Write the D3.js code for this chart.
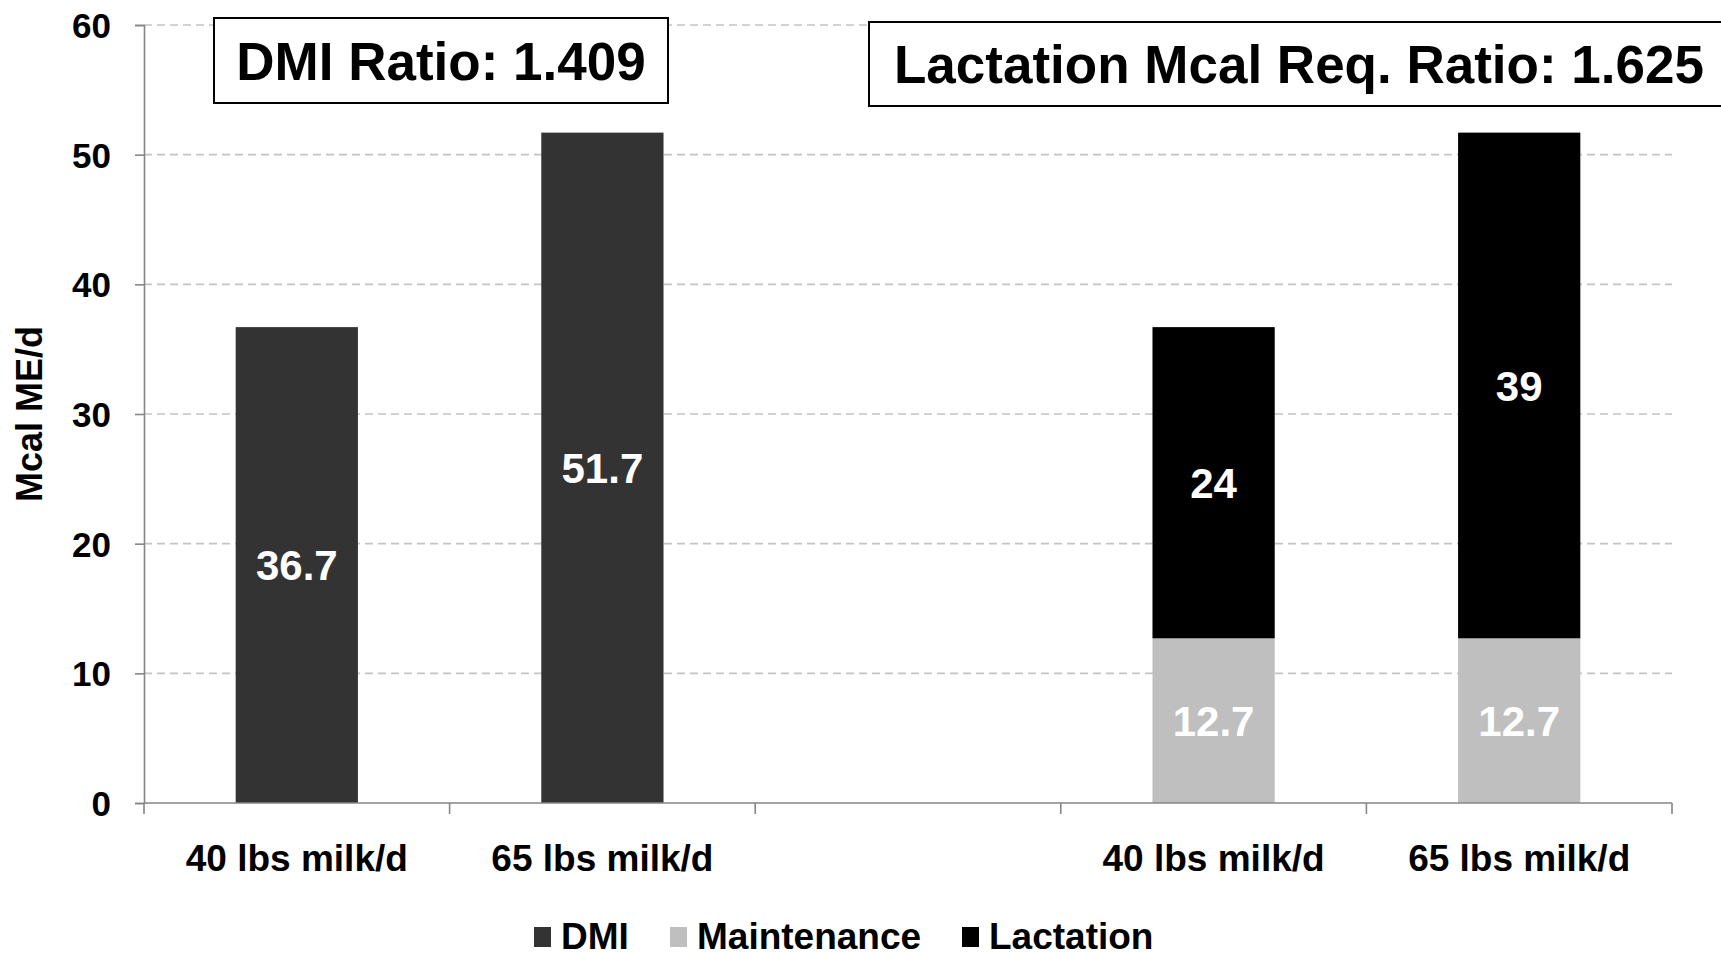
<!DOCTYPE html>
<html>
<head>
<meta charset="utf-8">
<script src="https://cdn.jsdelivr.net/npm/d3@7"></script>
<style>
  body { margin: 0; background: #fff; }
  text { font-family: "Liberation Sans", Arial, sans-serif; font-weight: bold; }
</style>
</head>
<body>
<svg id="chart" width="1721" height="953"></svg>
<script>
// donnees du graphique
var categories = ["40 lbs milk/d", "65 lbs milk/d", "", "40 lbs milk/d", "65 lbs milk/d"];
var dmi = [36.7, 51.7, 0, 0, 0];
var maintenance = [0, 0, 0, 12.7, 12.7];
var lactation = [0, 0, 0, 24, 39];
var seriesNames = ["DMI", "Maintenance", "Lactation"];
var seriesColors = ["#333333", "#bfbfbf", "#000000"];
var yTicks = [0, 10, 20, 30, 40, 50, 60];
var ratioLabels = ["DMI Ratio: 1.409", "Lactation Mcal Req. Ratio: 1.625"];

var svg = d3.select("#chart");
var mLeft = 144, mRight = 1672, mTop = 25, mBottom = 803;

var x = d3.scaleBand().domain(d3.range(categories.length)).range([mLeft, mRight]).paddingInner(0).paddingOuter(0);
var y = d3.scaleLinear().domain([0, 60]).range([mBottom, mTop]);

// table pour le stack
var rows = categories.map(function(c, i){
  return { i: i, DMI: dmi[i], Maintenance: maintenance[i], Lactation: lactation[i] };
});
var stacked = d3.stack().keys(seriesNames)(rows);

// grille
svg.append("g").selectAll("line").data(yTicks.slice(1)).enter()
  .append("line")
  .attr("x1", mLeft).attr("x2", mRight)
  .attr("y1", function(d){ return y(d); }).attr("y2", function(d){ return y(d); })
  .attr("stroke", "#c4c4c4").attr("stroke-width", 1.6)
  .attr("stroke-dasharray", "8,5");

// barres
var bw = x.bandwidth() * 0.4;
stacked.forEach(function(s, k){
  var g = svg.append("g");
  var segs = s.filter(function(d){ return d[1] - d[0] > 0; });
  g.selectAll("rect").data(segs).enter()
    .append("rect")
    .attr("x", function(d){ return x(d.data.i) + (x.bandwidth() - bw) / 2; })
    .attr("width", bw)
    .attr("y", function(d){ return y(d[1]); })
    .attr("height", function(d){ return y(d[0]) - y(d[1]); })
    .attr("fill", seriesColors[k]);
  g.selectAll("text").data(segs).enter()
    .append("text")
    .attr("x", function(d){ return x(d.data.i) + x.bandwidth() / 2; })
    .attr("y", function(d){ return y((d[0] + d[1]) / 2); })
    .attr("dy", "0.36em")
    .attr("text-anchor", "middle")
    .attr("font-size", 42)
    .attr("fill", "#fff")
    .text(function(d){ return +(d[1] - d[0]).toFixed(1); });
});

// axe y
var yAxis = svg.append("g").attr("transform", "translate(" + mLeft + ",0)")
  .call(d3.axisLeft(y).tickValues(yTicks).tickSize(9).tickPadding(24));
yAxis.select(".domain").attr("stroke", "#868686").attr("stroke-width", 1.6);
yAxis.selectAll(".tick line").attr("stroke", "#868686").attr("stroke-width", 1.6);
yAxis.selectAll(".tick text").attr("font-size", 35).attr("font-family", "Liberation Sans, Arial, sans-serif")
  .attr("font-weight", "bold").attr("fill", "#000").attr("dy", "0.36em");

// axe x
var xAxis = svg.append("g").attr("transform", "translate(0," + mBottom + ")");
xAxis.append("line").attr("x1", mLeft).attr("x2", mRight).attr("y1", 0).attr("y2", 0)
  .attr("stroke", "#868686").attr("stroke-width", 1.6);
xAxis.selectAll("line.tk").data(d3.range(categories.length + 1)).enter()
  .append("line").attr("class", "tk")
  .attr("x1", function(d){ return mLeft + d * x.step(); })
  .attr("x2", function(d){ return mLeft + d * x.step(); })
  .attr("y1", 0).attr("y2", 11)
  .attr("stroke", "#868686").attr("stroke-width", 1.6);
xAxis.selectAll("text").data(categories).enter()
  .append("text")
  .attr("x", function(d, i){ return x(i) + x.bandwidth() / 2; })
  .attr("y", 68)
  .attr("text-anchor", "middle")
  .attr("font-size", 37)
  .text(function(d){ return d; });

// titre axe y
svg.append("text")
  .attr("transform", "translate(42,414) rotate(-90)")
  .attr("text-anchor", "middle")
  .attr("font-size", 36)
  .text("Mcal ME/d");

// encadres des ratios
var boxes = [
  { x: 214, y: 18, w: 454, h: 85, text: ratioLabels[0], tx: 441, ty: 80 },
  { x: 869, y: 22, w: 860, h: 84, text: ratioLabels[1], tx: 894, ty: 83, anchor: "start" }
];
boxes.forEach(function(b){
  svg.append("rect").attr("x", b.x).attr("y", b.y).attr("width", b.w).attr("height", b.h)
    .attr("fill", "#fff").attr("stroke", "#000").attr("stroke-width", 2);
  svg.append("text").attr("x", b.tx).attr("y", b.ty)
    .attr("text-anchor", b.anchor || "middle")
    .attr("font-size", 53)
    .text(b.text);
});

// legende (coupee en bas comme dans l'original)
var legendX = [534, 670, 962];
var lg = svg.append("g");
seriesNames.forEach(function(n, k){
  lg.append("rect").attr("x", legendX[k]).attr("y", 927).attr("width", 17).attr("height", 20)
    .attr("fill", seriesColors[k]);
  lg.append("text").attr("x", legendX[k] + 27).attr("y", 949)
    .attr("font-size", 37)
    .text(n);
});
</script>
</body>
</html>
